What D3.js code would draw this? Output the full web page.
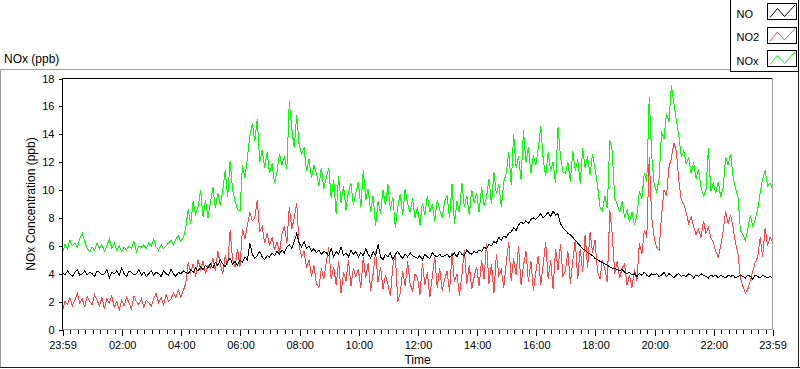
<!DOCTYPE html>
<html>
<head>
<meta charset="utf-8">
<title>NOx (ppb)</title>
<style>
  body { margin: 0; background: #fff; }
  svg { display: block; font-family: "Liberation Sans", Arial, sans-serif; }
  .tick text { font-size: 11px; fill: #000; }
  .tick line { stroke: #000; }
</style>
</head>
<body>
<div id="chart"></div>
<script src="https://d3js.org/d3.v7.min.js"></script>
<script>
// legend / series names
const seriesNames = ["NO", "NO2", "NOx"];

// x tick labels (first and last are the start/end of the 24 h window)
const xTickLabels = ["23:59", "02:00", "04:00", "06:00", "08:00", "10:00", "12:00",
  "14:00", "16:00", "18:00", "20:00", "22:00", "23:59"];
const yTickValues = [0, 2, 4, 6, 8, 10, 12, 14, 16, 18];

// readings every 5 minutes starting 23:59, one line per hour (ppb)
const noValues = [
  4.1,3.9,4.2,4.0,3.8,4.1,4.3,3.9,4.0,4.2,3.9,4.1,
  4.0,3.8,4.2,4.1,3.9,4.0,4.3,3.7,4.1,4.0,4.2,3.9,
  4.4,4.0,3.8,4.2,4.1,3.9,4.0,4.3,3.9,4.1,3.8,4.0,
  4.2,3.9,4.1,4.0,3.8,4.2,4.0,3.9,4.3,4.0,3.8,4.1,
  4.0,4.2,4.1,4.0,4.3,4.1,4.4,4.2,4.5,4.3,4.6,4.4,
  4.7,4.4,4.8,4.6,5.0,4.7,4.5,4.9,5.1,4.7,4.9,4.6,
  5.0,4.8,5.2,5.0,6.2,5.4,5.1,5.3,5.6,5.2,5.0,5.3,
  5.2,5.5,5.3,5.6,5.4,5.7,5.5,5.9,6.1,5.8,6.3,6.9,
  6.2,5.9,6.3,5.8,6.0,5.6,5.8,5.5,5.7,5.4,5.6,5.5,
  5.3,5.8,5.2,5.6,5.4,5.9,5.3,5.5,5.2,5.7,5.4,5.6,
  5.2,5.5,5.3,5.8,5.4,5.1,5.6,5.3,6.1,5.2,5.0,5.4,
  5.2,5.5,5.0,5.4,5.6,5.3,5.1,5.4,5.2,5.5,5.3,5.2,
  5.1,5.3,5.0,5.4,5.2,5.1,5.5,5.3,5.2,5.4,5.2,5.3,
  5.4,5.2,5.3,5.5,5.2,5.6,5.4,5.3,5.7,5.5,5.4,5.6,
  5.5,5.7,5.6,5.9,5.8,6.1,6.0,6.3,6.2,6.6,6.4,6.7,
  6.6,6.9,7.0,7.3,7.1,7.5,7.7,7.6,7.8,7.6,7.9,8.0,
  7.9,8.1,8.3,8.0,8.2,8.4,8.1,8.5,8.2,8.3,7.6,7.3,
  7.1,6.9,6.8,6.6,6.4,6.2,6.0,5.8,5.7,5.5,5.4,5.3,
  5.1,5.0,4.9,4.8,4.7,4.6,4.5,4.4,4.4,4.3,4.2,4.3,
  4.1,4.0,4.1,3.9,4.0,3.8,4.0,3.9,4.1,3.9,3.8,4.0,
  3.9,4.0,3.8,3.9,4.1,3.8,4.0,3.9,3.7,3.9,4.0,3.8,
  3.9,3.8,4.0,3.9,3.7,3.9,3.8,4.0,3.9,3.8,3.7,3.9,
  3.8,3.9,3.7,3.9,3.8,3.7,3.9,3.8,3.9,3.7,3.8,3.9,
  3.8,3.7,3.9,3.8,3.6,3.9,3.8,3.7,3.9,3.8,3.7,3.8,
  3.7
];

const no2Values = [
  1.3,2.0,1.8,2.3,1.7,2.1,2.6,1.9,2.2,1.6,2.4,2.0,
  1.8,2.5,2.1,1.7,2.3,1.5,2.2,1.9,2.4,1.6,2.0,1.4,
  2.1,1.7,2.3,1.9,1.5,2.4,2.0,1.8,2.2,1.6,2.1,1.9,
  1.7,2.2,2.6,1.9,2.3,1.8,2.5,2.0,2.2,2.6,2.3,2.8,
  2.3,2.8,3.3,4.8,4.1,4.7,3.8,5.0,4.3,4.9,4.0,4.6,
  4.4,5.1,4.2,5.6,4.7,4.0,5.3,4.6,7.1,5.0,4.5,5.8,
  4.5,7.2,6.5,7.5,8.4,7.8,8.0,9.3,7.0,7.4,6.2,6.9,
  6.0,6.6,5.7,6.3,5.5,6.8,7.4,6.2,8.8,7.2,8.0,9.1,
  6.0,5.2,5.6,4.4,5.0,3.8,4.6,3.3,3.0,4.4,3.6,4.8,
  5.9,3.6,4.5,3.2,4.9,2.6,4.1,3.5,5.0,3.1,4.4,3.8,
  4.3,3.0,5.2,3.7,4.8,2.8,4.0,5.6,3.4,4.5,2.9,3.9,
  3.2,2.4,4.6,5.4,2.0,2.6,4.2,3.1,4.9,3.3,2.7,4.0,
  3.7,2.5,4.8,3.2,4.1,2.3,3.8,5.2,3.0,4.4,2.8,3.6,
  4.2,2.7,5.5,3.4,4.0,2.4,3.9,5.7,3.3,4.6,2.9,3.8,
  4.5,3.1,5.0,3.6,6.2,3.3,4.7,2.6,5.4,3.9,4.3,3.0,
  4.8,6.3,3.5,5.1,3.9,6.0,3.2,4.6,5.6,3.4,4.9,2.8,
  4.1,5.3,3.2,4.7,6.3,3.6,5.0,2.9,5.8,4.3,6.1,3.8,
  4.2,5.6,3.3,4.9,6.4,3.6,5.8,4.1,6.8,4.4,7.0,5.5,
  6.4,4.2,3.6,5.0,4.3,3.4,8.6,6.8,4.0,4.9,3.7,4.4,
  4.7,3.2,3.9,3.0,4.3,3.5,6.2,5.4,7.1,6.6,12.4,8.0,
  6.6,5.9,5.7,8.2,10.0,9.6,11.6,12.3,13.4,12.8,10.7,9.3,
  9.0,8.4,7.6,8.1,7.4,6.8,7.2,6.6,7.8,6.9,7.3,6.6,
  6.2,5.6,5.2,6.0,7.1,8.5,7.6,8.2,7.3,6.2,5.4,3.7,
  3.1,2.6,2.9,3.5,4.2,4.8,5.2,6.6,5.2,7.3,6.0,6.6,
  6.3
];

const noxValues = [
  5.5,6.1,5.8,6.4,6.0,6.2,5.9,6.5,6.9,6.3,5.8,5.6,
  5.9,5.7,6.2,5.8,6.1,5.6,6.0,6.5,5.8,6.2,5.7,6.0,
  5.6,5.9,5.7,6.0,5.8,6.3,5.6,6.0,5.9,6.1,5.8,6.2,
  6.0,6.5,5.9,5.7,6.1,5.8,6.0,6.2,6.4,6.1,6.5,6.7,
  6.3,6.6,7.3,8.6,7.6,9.2,8.3,8.8,10.0,8.1,9.3,8.0,
  9.1,10.2,8.7,9.8,8.9,10.0,11.4,9.5,12.1,10.0,9.2,8.6,
  8.5,11.8,10.9,12.3,13.9,14.8,13.5,15.1,12.0,12.9,11.6,12.7,
  11.2,11.9,10.5,11.3,12.6,11.8,12.4,11.5,16.4,14.4,13.0,15.4,
  13.2,12.6,13.0,11.4,12.2,10.9,11.8,11.2,10.3,11.6,10.1,10.9,
  11.6,9.4,10.8,8.3,11.0,9.1,10.3,8.6,9.9,10.5,8.9,9.8,
  10.6,8.8,11.4,9.3,10.1,8.4,9.6,7.4,9.2,8.3,10.0,8.9,
  10.4,8.6,9.5,7.3,8.8,9.7,8.2,10.1,9.0,8.4,9.4,8.0,
  8.8,7.5,9.1,8.2,9.6,8.4,9.0,7.8,9.3,8.6,8.0,9.2,
  9.6,8.0,10.4,7.6,9.2,8.4,10.5,8.8,9.6,8.2,10.0,9.1,
  9.8,8.4,10.2,8.9,9.5,10.8,9.0,11.3,9.7,10.4,8.8,10.6,
  11.2,12.7,10.4,14.0,11.6,12.4,10.8,14.3,12.0,13.1,11.2,12.5,
  11.8,13.0,14.6,12.2,11.0,12.7,11.4,12.0,10.5,14.5,12.4,11.3,
  11.2,12.0,10.6,12.8,11.4,12.2,10.5,13.0,11.6,12.4,11.1,12.6,
  11.5,10.4,8.8,8.5,9.6,8.7,13.6,12.8,9.4,9.0,8.4,9.2,
  8.0,8.6,7.7,8.4,7.5,8.2,9.9,9.4,11.2,10.6,16.7,12.5,
  10.4,9.9,10.8,14.2,13.7,15.5,14.9,17.5,16.2,15.0,13.9,12.4,
  12.8,11.9,12.3,11.2,12.0,10.8,11.5,10.2,9.6,10.0,13.0,9.9,
  10.5,9.8,10.6,9.5,10.2,12.4,11.8,12.6,11.0,10.1,9.5,7.1,
  6.8,6.4,7.2,8.2,7.4,7.9,8.6,9.8,10.8,11.4,10.3,10.5,
  10.1
];

const lineColors = { "NO": "#000000", "NO2": "#ff4545", "NOx": "#00ff00" };

const w = 800, h = 369;
const plotL = 62.5, plotR = 772.5, plotT = 78.5, plotB = 329.5;
const stepMin = 5;
const t0 = new Date(2000, 0, 1, 23, 59);
const t1 = new Date(2000, 0, 2, 23, 59);

function timeAt(i) { return new Date(t0.getTime() + i * stepMin * 60000); }

const svg = d3.select('#chart').append('svg').attr('width', w).attr('height', h);

const x = d3.scaleTime().domain([t0, t1]).range([plotL, plotR]);
const y = d3.scaleLinear().domain([0, 18]).range([plotB, plotT]);

// outer panel
svg.append('line').attr('x1', 0).attr('x2', 731).attr('y1', 69.5).attr('y2', 69.5).attr('stroke', '#a0a0a0');
svg.append('line').attr('x1', 0.5).attr('x2', 0.5).attr('y1', 69).attr('y2', 368).attr('stroke', '#a0a0a0');
svg.append('line').attr('x1', 0).attr('x2', 800).attr('y1', 367.5).attr('y2', 367.5).attr('stroke', '#202020');
svg.append('line').attr('x1', 798.5).attr('x2', 798.5).attr('y1', 72).attr('y2', 368).attr('stroke', '#202020');

svg.append('text').attr('x', 4).attr('y', 63).text('NOx (ppb)').style('font-size', '12px').attr('fill', '#000');

// ticks
const majors = xTickLabels.map(function (lab, i) {
  if (i === 0) return t0;
  if (i === xTickLabels.length - 1) return t1;
  const p = lab.split(':');
  return new Date(2000, 0, 2, +p[0], +p[1]);
});
const minors = d3.timeMinute.every(15).range(new Date(2000, 0, 2, 0, 15), t1)
  .filter(d => !(d.getMinutes() === 0 && d.getHours() % 2 === 0));

const xMinor = d3.axisBottom(x).tickValues(minors).tickFormat('').tickSize(4).tickSizeOuter(0);
const xAxis = d3.axisBottom(x).tickValues(majors).tickFormat((d, i) => xTickLabels[i]).tickSize(6).tickPadding(5).tickSizeOuter(0);
const yAxis = d3.axisLeft(y).tickValues(yTickValues).tickSize(4).tickPadding(4).tickSizeOuter(0);

svg.append('g').attr('transform', 'translate(0,' + (plotB + 0.5) + ')').call(xMinor).call(g => g.select('.domain').remove());
svg.append('g').attr('transform', 'translate(0,' + (plotB + 0.5) + ')').call(xAxis).call(g => g.select('.domain').remove());
svg.append('g').attr('transform', 'translate(' + plotL + ',0)').call(yAxis).call(g => g.select('.domain').remove());
svg.selectAll('.tick line').attr('shape-rendering', 'crispEdges');

// data lines (NOx at the back, NO on top)
const series = [
  { name: "NOx", values: noxValues },
  { name: "NO2", values: no2Values },
  { name: "NO", values: noValues }
];
const line = d3.line().x((d, i) => x(timeAt(i))).y(d => y(d));
const plot = svg.append('g');
series.forEach(function (s) {
  plot.append('path').datum(s.values).attr('d', line)
    .attr('fill', 'none').attr('stroke', lineColors[s.name]).attr('stroke-width', 1)
    .attr('shape-rendering', 'crispEdges');
});

// plot frame
svg.append('line').attr('x1', plotL).attr('x2', plotR).attr('y1', plotT).attr('y2', plotT).attr('stroke', '#000');
svg.append('line').attr('x1', plotL).attr('x2', plotL).attr('y1', plotT).attr('y2', plotB + 0.5).attr('stroke', '#000');
svg.append('line').attr('x1', plotR).attr('x2', plotR).attr('y1', plotT).attr('y2', plotB + 0.5).attr('stroke', '#a0a0a0');
svg.append('line').attr('x1', plotL).attr('x2', plotR + 0.5).attr('y1', plotB).attr('y2', plotB).attr('stroke', '#a0a0a0');

// axis titles
svg.append('text').attr('x', (plotL + plotR) / 2).attr('y', 364).attr('text-anchor', 'middle')
  .text('Time').style('font-size', '12px').attr('fill', '#000');
svg.append('text').attr('transform', 'translate(35,' + ((plotT + plotB) / 2) + ') rotate(-90)')
  .attr('text-anchor', 'middle').text('NOx Concentration (ppb)').style('font-size', '12px').attr('fill', '#000');

// legend
const legend = svg.append('g').attr('transform', 'translate(730.5,-0.5)');
legend.append('rect').attr('width', 68).attr('height', 72).attr('fill', '#fff').attr('stroke', '#000');
seriesNames.forEach(function (name, i) {
  const g = legend.append('g').attr('transform', 'translate(0,' + (i * 23.5) + ')');
  g.append('text').attr('x', 6).attr('y', 18).text(name).style('font-size', '11px').attr('fill', '#000');
  g.append('rect').attr('x', 37).attr('y', 4).attr('width', 29).attr('height', 16)
    .attr('fill', '#fff').attr('stroke', '#000').attr('shape-rendering', 'crispEdges');
  g.append('polyline').attr('points', '39.5,18 47,9 54,17 64.5,5.5')
    .attr('fill', 'none').attr('stroke', lineColors[name]).attr('stroke-width', 1);
});
</script>
</body>
</html>
